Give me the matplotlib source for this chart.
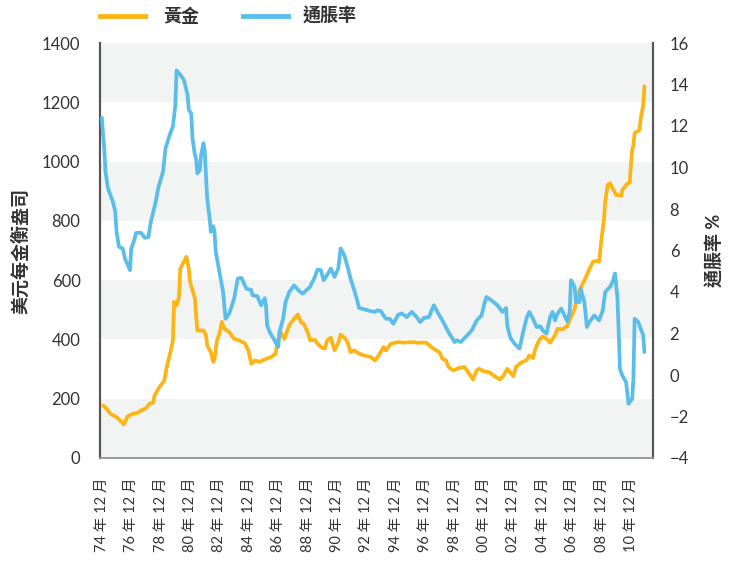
import matplotlib
matplotlib.use('Agg')
import matplotlib.pyplot as plt

plt.rcParams['font.family'] = ['Lato', 'Noto Sans CJK TC', 'DejaVu Sans']

# 月份索引 (0 = 1974 年 12 月)
gold_month = [1, 4, 7, 12, 15, 18, 21, 25, 29, 32, 36, 39, 42, 43, 47, 51, 53, 56, 58, 59,
              61, 63, 64, 67, 69, 71, 72, 76, 77, 78, 83, 85, 86, 89, 91, 92, 94, 96, 98, 100,
              104, 108, 112, 117, 120, 122, 125, 129, 133, 138, 142, 143, 146, 149, 153, 157, 160, 163, 165, 168,
              170, 174, 176, 179, 182, 184, 187, 190, 193, 195, 199, 201, 203, 206, 210, 214, 220, 223, 226, 230,
              232, 236, 242, 247, 253, 258, 265, 269, 273, 276, 278, 281, 283, 287, 291, 296, 300, 303, 306, 308,
              312, 316, 320, 325, 328, 331, 336, 338, 342, 347, 349, 352, 354, 357, 360, 363, 366, 370, 372, 376,
              380, 383, 386, 388, 392, 395, 397, 401, 404, 406, 408, 410, 411, 413, 415, 417, 420, 424, 425, 428,
              431, 432, 433, 434, 435, 439, 440, 442, 443]
gold_price = [177, 166, 149, 138, 126, 113, 140, 149, 152, 160, 168, 183, 187, 211, 239, 261, 307, 357, 397, 527,
              515, 543, 639, 662, 679, 639, 594, 538, 481, 430, 430, 414, 380, 357, 324, 335, 397, 419, 459, 436,
              425, 402, 397, 386, 357, 318, 329, 324, 333, 340, 352, 386, 425, 402, 447, 470, 484, 456, 452, 425,
              397, 399, 386, 374, 369, 397, 406, 363, 389, 416, 402, 386, 357, 363, 352, 346, 340, 329, 346, 374,
              363, 386, 391, 389, 391, 389, 389, 374, 363, 355, 335, 329, 307, 295, 303, 307, 284, 265, 295, 301,
              292, 290, 278, 265, 278, 301, 276, 307, 321, 331, 346, 337, 369, 397, 410, 402, 389, 414, 436, 434,
              445, 476, 502, 549, 583, 608, 628, 662, 665, 662, 741, 808, 865, 921, 927, 910, 887, 885, 904, 921,
              930, 989, 1039, 1056, 1096, 1107, 1146, 1191, 1254]

cpi_month = [0, 1, 2, 3, 5, 9, 11, 12, 14, 17, 19, 23, 24, 26, 28, 32, 35, 38, 40, 44,
             46, 50, 52, 55, 58, 60, 61, 64, 67, 70, 71, 73, 74, 76, 77, 78, 80, 81, 83, 84,
             85, 86, 88, 89, 91, 92, 93, 96, 99, 101, 104, 108, 111, 114, 118, 122, 123, 127, 130, 133,
             134, 135, 137, 141, 144, 145, 148, 150, 153, 157, 161, 164, 170, 174, 176, 179, 181, 183, 187, 190,
             193, 195, 198, 201, 203, 206, 208, 210, 214, 220, 223, 225, 228, 230, 232, 235, 238, 242, 245, 249,
             253, 257, 260, 263, 267, 271, 274, 278, 283, 288, 290, 293, 297, 302, 306, 310, 312, 314, 318, 323,
             327, 330, 331, 333, 334, 337, 341, 344, 347, 349, 352, 355, 358, 360, 363, 366, 368, 370, 372, 375,
             377, 380, 382, 383, 386, 387, 390, 391, 394, 396, 398, 402, 406, 409, 411, 415, 417, 419, 421, 422,
             423, 425, 428, 430, 433, 434, 435, 438, 440, 442, 443]
cpi_rate = [12.4, 11.6, 10.9, 9.8, 9.0, 8.35, 7.87, 6.9, 6.18, 6.1, 5.6, 5.05, 6.1, 6.42, 6.85, 6.85, 6.61, 6.65, 7.38, 8.35,
            9.0, 9.8, 10.93, 11.5, 11.97, 13.0, 14.68, 14.47, 14.22, 13.5, 12.78, 12.6, 11.4, 10.6, 10.4, 9.72, 9.88, 10.6, 11.17, 10.77,
            9.64, 8.52, 7.55, 6.9, 7.17, 6.9, 5.94, 4.97, 4.0, 2.71, 2.96, 3.68, 4.65, 4.68, 4.16, 4.1, 3.84, 3.8, 3.36, 3.7,
            3.36, 2.39, 2.07, 1.67, 1.35, 2.07, 2.71, 3.52, 4.0, 4.32, 4.05, 3.92, 4.25, 4.73, 5.08, 5.05, 4.57, 4.73, 5.13, 4.73,
            5.13, 6.1, 5.77, 5.13, 4.65, 4.1, 3.7, 3.23, 3.17, 3.07, 3.04, 3.12, 3.07, 2.87, 2.71, 2.71, 2.47, 2.91, 2.96, 2.79,
            3.04, 2.79, 2.55, 2.75, 2.79, 3.36, 3.04, 2.63, 2.07, 1.59, 1.67, 1.59, 1.83, 2.15, 2.63, 2.87, 3.36, 3.76, 3.6, 3.36,
            3.04, 3.23, 2.4, 1.91, 1.75, 1.51, 1.27, 2.07, 2.79, 3.04, 2.71, 2.31, 2.35, 2.15, 1.99, 2.79, 3.04, 2.63, 2.96, 3.2,
            2.96, 2.59, 3.04, 4.57, 4.25, 3.52, 3.52, 4.16, 3.52, 2.31, 2.55, 2.87, 2.63, 3.12, 4.0, 4.25, 4.49, 4.89, 3.68, 2.07,
            0.3, -0.03, -0.34, -1.39, -1.15, -0.18, 2.71, 2.55, 2.23, 1.91, 1.1]

tick_years = ['74', '76', '78', '80', '82', '84', '86', '88', '90', '92',
              '94', '96', '98', '00', '02', '04', '06', '08', '10']
tick_labels = [f'{y} 年 12 月' for y in tick_years]

gold_color = '#FDB515'
cpi_color = '#5BBDEA'
text_color = '#333333'

fig = plt.figure(figsize=(7.36, 5.65), dpi=100)
ax = fig.add_axes([100 / 736, 1 - 458 / 565, 553 / 736, 415 / 565])
ax2 = ax.twinx()

# 灰白相間的背景條
for lo in range(0, 1400, 400):
    ax.axhspan(lo, lo + 200, color='#F2F3F3', zorder=0, lw=0)

ax.plot(gold_month, gold_price, color=gold_color, lw=2.7, solid_capstyle='round', zorder=3)
ax2.plot(cpi_month, cpi_rate, color=cpi_color, lw=2.7, solid_capstyle='round', zorder=3)

ax.set_xlim(-1.5, 450)
ax.set_ylim(0, 1400)
ax.set_yticks(range(0, 1401, 200))
ax2.set_ylim(-4, 16)
ax2.set_yticks(range(-4, 17, 2))

ax.set_xticks(range(0, 24 * len(tick_labels), 24))
ax.set_xticklabels(tick_labels, rotation=90, fontsize=10.5, color=text_color)

ax.tick_params(axis='both', length=0, labelsize=12, labelcolor=text_color)
ax.tick_params(axis='x', labelsize=10.5, pad=14)
ax.tick_params(axis='y', pad=14)
ax2.tick_params(axis='y', length=0, labelsize=12, labelcolor=text_color, pad=12)

for a in (ax, ax2):
    a.spines['top'].set_visible(False)
    a.spines['left'].set_color('#555555')
    a.spines['right'].set_color('#555555')
    a.spines['left'].set_linewidth(1.5)
    a.spines['right'].set_linewidth(1.5)
    a.spines['bottom'].set_color('#999999')
    a.spines['bottom'].set_linewidth(1.2)

ax.set_ylabel('美元每金衡盎司', fontsize=13, fontweight='bold', color=text_color, labelpad=9)
ax2.set_ylabel('通脹率 %', fontsize=13, fontweight='bold', color=text_color, labelpad=12)

# 圖例
fig.lines.append(plt.Line2D([100 / 736, 145 / 736], [1 - 16 / 565] * 2, color=gold_color, lw=3.5,
                            transform=fig.transFigure))
fig.text(163 / 736, 1 - 16 / 565, '黃金', fontsize=13, fontweight='bold', color=text_color, va='center')
fig.lines.append(plt.Line2D([243 / 736, 288 / 736], [1 - 16 / 565] * 2, color=cpi_color, lw=3.5,
                            transform=fig.transFigure))
fig.text(303 / 736, 1 - 16 / 565, '通脹率', fontsize=13, fontweight='bold', color=text_color, va='center')

fig.savefig('out.png', dpi=100)
